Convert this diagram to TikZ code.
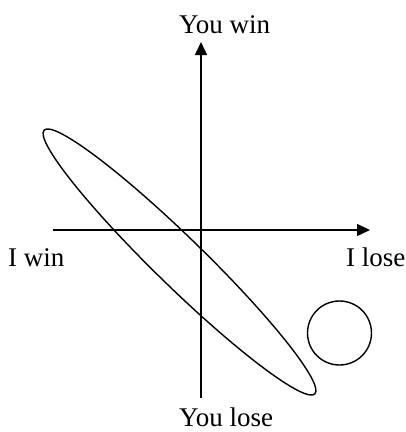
\documentclass[tikz,border=0pt]{standalone}
\usepackage{fontspec}
\setmainfont{Liberation Serif}
\usetikzlibrary{arrows.meta}
\begin{document}
\begin{tikzpicture}[x=1pt,y=-1pt,
  axis/.style={line width=1.5pt,-{Triangle[length=13pt,width=12pt]}},
  outline/.style={line width=1.4pt},
  lbl/.style={inner sep=0pt,anchor=base west,font=\fontsize{27}{30}\selectfont}]
\useasboundingbox (0,0) rectangle (406,432);
\coordinate (vb) at (201,398);
\coordinate (vt) at (201,42);
\coordinate (hl) at (53,230);
\coordinate (hr) at (370,230);
\draw[axis] (vb) -- (vt);
\draw[axis] (hl) -- (hr);
\node[lbl] (youwin) at (179,33) {You win};
\node[lbl] (youlose) at (179,426) {You lose};
\node[lbl] (iwin) at (8,266) {I win};
\node[lbl] (ilose) at (346,266) {I lose};
\draw[outline] (179.5,262) ellipse[x radius=189pt,y radius=24.5pt,rotate=-44.25];
\draw[outline] (339.5,333) circle[radius=32pt];
\end{tikzpicture}
\end{document}
